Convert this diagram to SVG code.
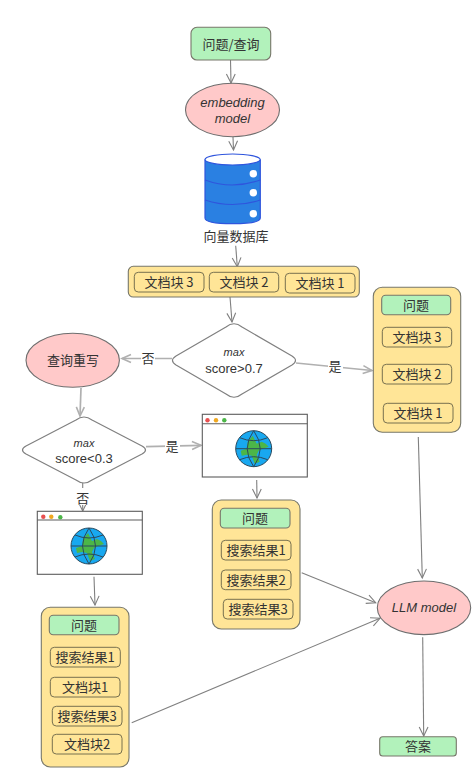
<svg xmlns="http://www.w3.org/2000/svg" xmlns:xlink="http://www.w3.org/1999/xlink" width="475" height="776" viewBox="0 0 475 776">
<style>
text{font-family:"Noto Sans CJK SC","Liberation Sans",sans-serif;font-size:13px;fill:#333;text-anchor:middle;dominant-baseline:central}
.lat{font-family:"Liberation Sans","Noto Sans CJK SC",sans-serif}
.it{font-style:italic}
.sm{font-size:11px}
.box{stroke:#77776a;stroke-width:1.1}
.green{fill:#b2f2bb}
.yellow{fill:#ffe597}
.item{fill:#ffe597;stroke:#77704f;stroke-width:1}
.pink{fill:#ffc9c9;stroke:#6e6e6e;stroke-width:1.1}
.dia{fill:#fff;stroke:#808080;stroke-width:1.2;stroke-linejoin:round}
.con{fill:none;stroke:#808080;stroke-width:1.1;marker-end:url(#arr)}
.conl{fill:none;stroke:#b0b0b0;stroke-width:1.7;marker-end:url(#arrl)}
.win{fill:#fff;stroke:#5c5c5c;stroke-width:1.1}
.gl{fill:none;stroke:#2b4a5e;stroke-width:1}
</style>
<defs>
<marker id="arr" markerUnits="userSpaceOnUse" markerWidth="14" markerHeight="14" refX="11" refY="7" orient="auto"><path d="M2 2.6L11 7L2 11.4" fill="none" stroke="#808080" stroke-width="1.1"/></marker>
<marker id="arrl" markerUnits="userSpaceOnUse" markerWidth="14" markerHeight="14" refX="11" refY="7" orient="auto"><path d="M2 3L11 7L2 11" fill="none" stroke="#b0b0b0" stroke-width="1.6"/></marker>
<g id="globe">
<circle r="18" fill="#18a8f0"/>
<path d="M-6-7L-1-13L3-5L8-7L12-5L15-2L9 0L5 2L3 6L6 13L1 15L-2 7L-7 6L-12 7L-13 2L-7 0Z" fill="#4cb648"/>
<circle r="18" class="gl"/>
<path class="gl" d="M-18 0H18M-14-11Q0-5 14-11M-14 11Q0 5 14 11M0-18Q-13 0 0 18M0-18Q13 0 0 18"/>
</g>
</defs>
<rect width="475" height="776" fill="#fff"/>
<g id="connectors">
<path class="con" d="M230.5 60L231 83"/>
<path class="con" d="M233 137L233.5 150"/>
<path class="con" d="M235.7 245.7L237.3 266.7"/>
<path class="con" d="M230 297L232 322"/>
<path class="conl" d="M172 358.5H122"/>
<path class="conl" d="M296 363L372 370.5"/>
<path class="conl" d="M81 388L80 416"/>
<path class="conl" d="M146 446.7L201 445.3"/>
<path class="con" d="M82.7 483V511"/>
<path class="con" d="M256.7 480L257 498"/>
<path class="con" d="M94 576.7L95 605"/>
<path class="con" d="M418.3 437L422.3 578"/>
<path class="con" d="M301.7 572.7L375.7 602.7"/>
<path class="con" d="M131.7 722.7L380 618.3"/>
<path class="con" d="M422.7 637.3L423.7 736"/>
</g>
<g id="query"><rect class="box green" x="191" y="27.3" width="79.7" height="32.7" rx="6"/><text x="231" y="43.5">问题/查询</text></g>
<g id="embedding"><ellipse class="pink" cx="232.5" cy="110" rx="47" ry="26.7"/><text class="lat it" x="232.5" y="102">embedding</text><text class="lat it" x="232.5" y="118">model</text></g>
<g id="vector-db">
<path d="M205 160V218Q205 223.7 232.6 223.7T260.3 218V160Z" fill="#2a80e2" stroke="#2f55dd" stroke-width="1.2"/>
<ellipse cx="232.6" cy="159.5" rx="27.6" ry="5.5" fill="#fff" stroke="#2f55dd" stroke-width="1.2"/>
<path d="M205 180Q232 190 260.3 180M205 200Q232 209 260.3 200" fill="none" stroke="#2f55dd" stroke-width="1.2"/>
<circle cx="253.3" cy="173.7" r="3.7" fill="#fff"/><circle cx="253.3" cy="192.7" r="3.7" fill="#fff"/><circle cx="253.3" cy="213.7" r="3.7" fill="#fff"/>
<text x="236" y="235">向量数据库</text>
</g>
<g id="chunks">
<rect class="box yellow" x="128.3" y="266.3" width="231" height="30.7" rx="5"/>
<rect class="item" x="134.3" y="272.3" width="69.7" height="19.7" rx="4"/><text x="169" y="281.5">文档块 3</text>
<rect class="item" x="209.3" y="272.3" width="69.4" height="19.7" rx="4"/><text x="244" y="281.5">文档块 2</text>
<rect class="item" x="285.3" y="273.3" width="69.7" height="19.7" rx="4"/><text x="320" y="282.5">文档块 1</text>
</g>
<g id="decision-high">
<path class="dia" d="M226 327Q234 320.5 242 327L292 356Q299 360.5 292 365L242 394Q234 400.5 226 394L176 365Q169 360.5 176 356Z"/>
<text class="lat it sm" x="234" y="352">max</text><text class="lat" x="234" y="368.5">score&gt;0.7</text>
</g>
<g id="rewrite"><ellipse class="pink" cx="72.7" cy="360.3" rx="46.7" ry="27"/><text x="73" y="359.5">查询重写</text></g>
<g id="decision-low">
<path class="dia" d="M76 420Q84 414 92 420L142 446Q149 450 142 454L92 480Q84 486 76 480L26 454Q19 450 26 446Z"/>
<text class="lat it sm" x="84" y="443">max</text><text class="lat" x="84" y="458.5">score&lt;0.3</text>
</g>
<g id="edge-labels">
<rect x="141" y="350" width="14" height="17" fill="#fff"/><text x="148" y="357.5">否</text>
<rect x="328" y="357" width="15" height="17" fill="#fff"/><text x="335" y="365">是</text>
<rect x="165" y="437" width="15" height="17" fill="#fff"/><text x="172" y="445">是</text>
<rect x="75" y="488" width="15" height="17" fill="#fff"/><text x="82.7" y="497">否</text>
</g>
<g id="browser-1">
<rect class="win" x="202.3" y="414.3" width="105" height="62.7"/><path d="M202.3 423.7H307.3" stroke="#5c5c5c" stroke-width="1.1"/>
<circle cx="207.5" cy="420.3" r="2.2" fill="#e95050"/><circle cx="216" cy="420.3" r="2.2" fill="#f0a820"/><circle cx="224.3" cy="420.3" r="2.2" fill="#4cb648"/>
<use xlink:href="#globe" href="#globe" x="253.7" y="448.7"/>
</g>
<g id="browser-2">
<rect class="win" x="37.3" y="511.3" width="105" height="63"/><path d="M37.3 520H142.3" stroke="#5c5c5c" stroke-width="1.1"/>
<circle cx="43.3" cy="516.7" r="2.2" fill="#e95050"/><circle cx="51.3" cy="516.7" r="2.2" fill="#f0a820"/><circle cx="60.3" cy="517.3" r="2.2" fill="#4cb648"/>
<use xlink:href="#globe" href="#globe" x="89" y="546"/>
</g>
<g id="context-docs">
<rect class="box yellow" x="373.3" y="287.3" width="87.4" height="145" rx="9"/>
<rect class="box green" x="381.7" y="295.3" width="69" height="19.4" rx="4"/><text x="416" y="304">问题</text>
<rect class="item" x="382.3" y="327.3" width="69.4" height="19.7" rx="4"/><text x="417" y="336">文档块 3</text>
<rect class="item" x="382.3" y="364.3" width="69.4" height="19.7" rx="4"/><text x="417" y="373">文档块 2</text>
<rect class="item" x="383.3" y="403.3" width="69.7" height="19.7" rx="4"/><text x="418" y="412">文档块 1</text>
</g>
<g id="context-search">
<rect class="box yellow" x="212.3" y="500" width="87.7" height="129" rx="9"/>
<rect class="box green" x="220.3" y="508.3" width="69.7" height="19.7" rx="4"/><text x="255" y="517">问题</text>
<rect class="item" x="221.3" y="540.3" width="69.7" height="19.7" rx="4"/><text x="256" y="549.5">搜索结果1</text>
<rect class="item" x="221.3" y="570" width="69.7" height="19.7" rx="4"/><text x="256" y="579">搜索结果2</text>
<rect class="item" x="223.3" y="599.3" width="69.7" height="19.7" rx="4"/><text x="258" y="608">搜索结果3</text>
</g>
<g id="context-mixed">
<rect class="box yellow" x="41.3" y="607.3" width="87.7" height="159.7" rx="9"/>
<rect class="box green" x="49.3" y="615.3" width="69.7" height="19.4" rx="4"/><text x="84" y="624">问题</text>
<rect class="item" x="50.3" y="647.3" width="70" height="19.7" rx="4"/><text x="85" y="656">搜索结果1</text>
<rect class="item" x="50.3" y="677.3" width="69.7" height="19.7" rx="4"/><text x="85" y="686">文档块1</text>
<rect class="item" x="52.3" y="706.3" width="69.7" height="19.7" rx="4"/><text x="87" y="715">搜索结果3</text>
<rect class="item" x="52.3" y="734.3" width="69.7" height="19.7" rx="4"/><text x="87" y="743">文档块2</text>
</g>
<g id="llm"><ellipse class="pink" cx="424" cy="607.8" rx="46.7" ry="26.8"/><text class="lat it" x="424" y="607">LLM model</text></g>
<g id="answer"><rect class="box green" x="379.7" y="736.7" width="76.6" height="19.3" rx="3"/><text x="418" y="745">答案</text></g>
</svg>
